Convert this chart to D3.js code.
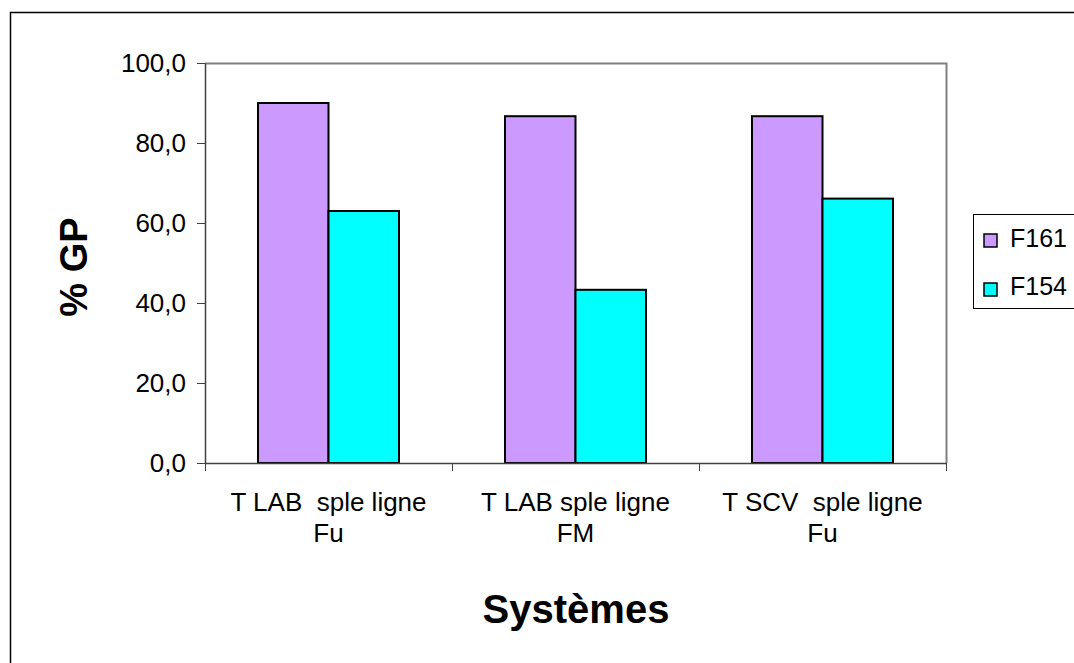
<!DOCTYPE html>
<html>
<head>
<meta charset="utf-8">
<script src="https://cdn.jsdelivr.net/npm/d3@7"></script>
<style>
  body { margin: 0; background: #fff; }
  text { font-family: "Liberation Sans", Arial, sans-serif; }
</style>
</head>
<body>
<div id="chart"></div>
<script>
// data
var categories = [["T LAB  sple ligne", "Fu"], ["T LAB sple ligne", "FM"], ["T SCV  sple ligne", "Fu"]];
var seriesNames = ["F161", "F154"];
var f161 = [90.0, 86.7, 86.7];
var f154 = [63.0, 43.3, 66.1];
var yTicks = [0, 20, 40, 60, 80, 100];
var colors = ["#cc99ff", "#00ffff"];

var W = 1074, H = 663;
var margin = { top: 63, left: 205 },
    width = 946 - 205,
    height = 463 - 63;

var svg = d3.select("#chart").append("svg")
    .attr("width", W)
    .attr("height", H);

// outer chart border (right/bottom run off the page)
svg.append("rect")
    .attr("x", 10.5).attr("y", 12.5)
    .attr("width", 1100).attr("height", 700)
    .attr("fill", "none").attr("stroke", "#000").attr("stroke-width", 1.5);

var g = svg.append("g")
    .attr("transform", "translate(" + margin.left + "," + margin.top + ")");

var x0 = d3.scaleBand()
    .domain(d3.range(categories.length))
    .range([0, width])
    .paddingInner(0).paddingOuter(0);

var x1 = d3.scaleBand()
    .domain(seriesNames)
    .range([0, 141])

var y = d3.scaleLinear()
    .domain([0, 100])
    .range([height, 0]);

// plot area frame: top + right grey
g.append("path")
    .attr("d", "M0,0.5H" + (width + 0.5) + "V" + height)
    .attr("fill", "none").attr("stroke", "#808080").attr("stroke-width", 2);

var rows = categories.map(function (c, i) {
    return { i: i, values: [f161[i], f154[i]] };
});

var grp = g.selectAll(".grp")
    .data(rows)
    .enter().append("g")
    .attr("transform", function (d) {
        return "translate(" + (x0(d.i) + (x0.bandwidth() - 141) / 2) + ",0)";
    });

grp.selectAll("rect")
    .data(function (d) { return d.values.map(function (v, k) { return { k: k, v: v }; }); })
    .enter().append("rect")
    .attr("x", function (d) { return x1(seriesNames[d.k]); })
    .attr("y", function (d) { return y(d.v); })
    .attr("width", x1.bandwidth())
    .attr("height", function (d) { return height - y(d.v); })
    .attr("fill", function (d) { return colors[d.k]; })
    .attr("stroke", "#000").attr("stroke-width", 2);

// y axis
var yAxis = g.append("g")
    .call(d3.axisLeft(y).tickValues(yTicks).tickSize(8).tickSizeOuter(0)
        .tickFormat(function (d) { return d3.format(".1f")(d).replace(".", ","); }));
yAxis.select(".domain").attr("stroke", "#404040").attr("stroke-width", 1.5);
yAxis.selectAll(".tick line").attr("stroke", "#404040");
yAxis.selectAll(".tick text")
    .attr("x", -19)
    .attr("font-size", "26px")
    .attr("font-family", "Liberation Sans, Arial, sans-serif")
    .attr("fill", "#000");

// x axis: ticks at category boundaries
var xb = d3.scaleLinear().domain([0, 3]).range([0, width]);
var xAxis = g.append("g")
    .attr("transform", "translate(0," + height + ")")
    .call(d3.axisBottom(xb).tickValues([0, 1, 2, 3]).tickSize(8).tickSizeOuter(0).tickFormat(""));
xAxis.select(".domain").attr("stroke", "#404040").attr("stroke-width", 1.5);
xAxis.selectAll(".tick line").attr("stroke", "#404040");

// category labels
var lab = g.selectAll(".catlab")
    .data(categories)
    .enter().append("text")
    .attr("text-anchor", "middle")
    .attr("font-size", "26px")
    .style("white-space", "pre")
    .attr("transform", function (d, i) {
        return "translate(" + (x0(i) + x0.bandwidth() / 2) + "," + (height + 48) + ")";
    });
lab.append("tspan").attr("x", 0).attr("dy", 0).text(function (d) { return d[0]; });
lab.append("tspan").attr("x", 0).attr("dy", 31).text(function (d) { return d[1]; });

// axis titles
svg.append("text")
    .attr("x", 576).attr("y", 623)
    .attr("text-anchor", "middle")
    .attr("font-size", "40px").attr("font-weight", "bold")
    .text("Systèmes");

svg.append("text")
    .attr("transform", "translate(87,267) rotate(-90)")
    .attr("text-anchor", "middle")
    .attr("font-size", "38px").attr("font-weight", "bold")
    .text("% GP");

// legend
var leg = svg.append("g").attr("transform", "translate(973,214)");
leg.append("rect")
    .attr("x", 0.5).attr("y", 0.5).attr("width", 130).attr("height", 94)
    .attr("fill", "#fff").attr("stroke", "#000").attr("stroke-width", 1);
seriesNames.forEach(function (s, k) {
    leg.append("rect")
        .attr("x", 11).attr("y", 20 + k * 49)
        .attr("width", 13).attr("height", 13)
        .attr("fill", colors[k]).attr("stroke", "#000").attr("stroke-width", 1.5);
    leg.append("text")
        .attr("x", 37).attr("y", 33 + k * 48)
        .attr("font-size", "25px")
        .text(s);
});
</script>
</body>
</html>
